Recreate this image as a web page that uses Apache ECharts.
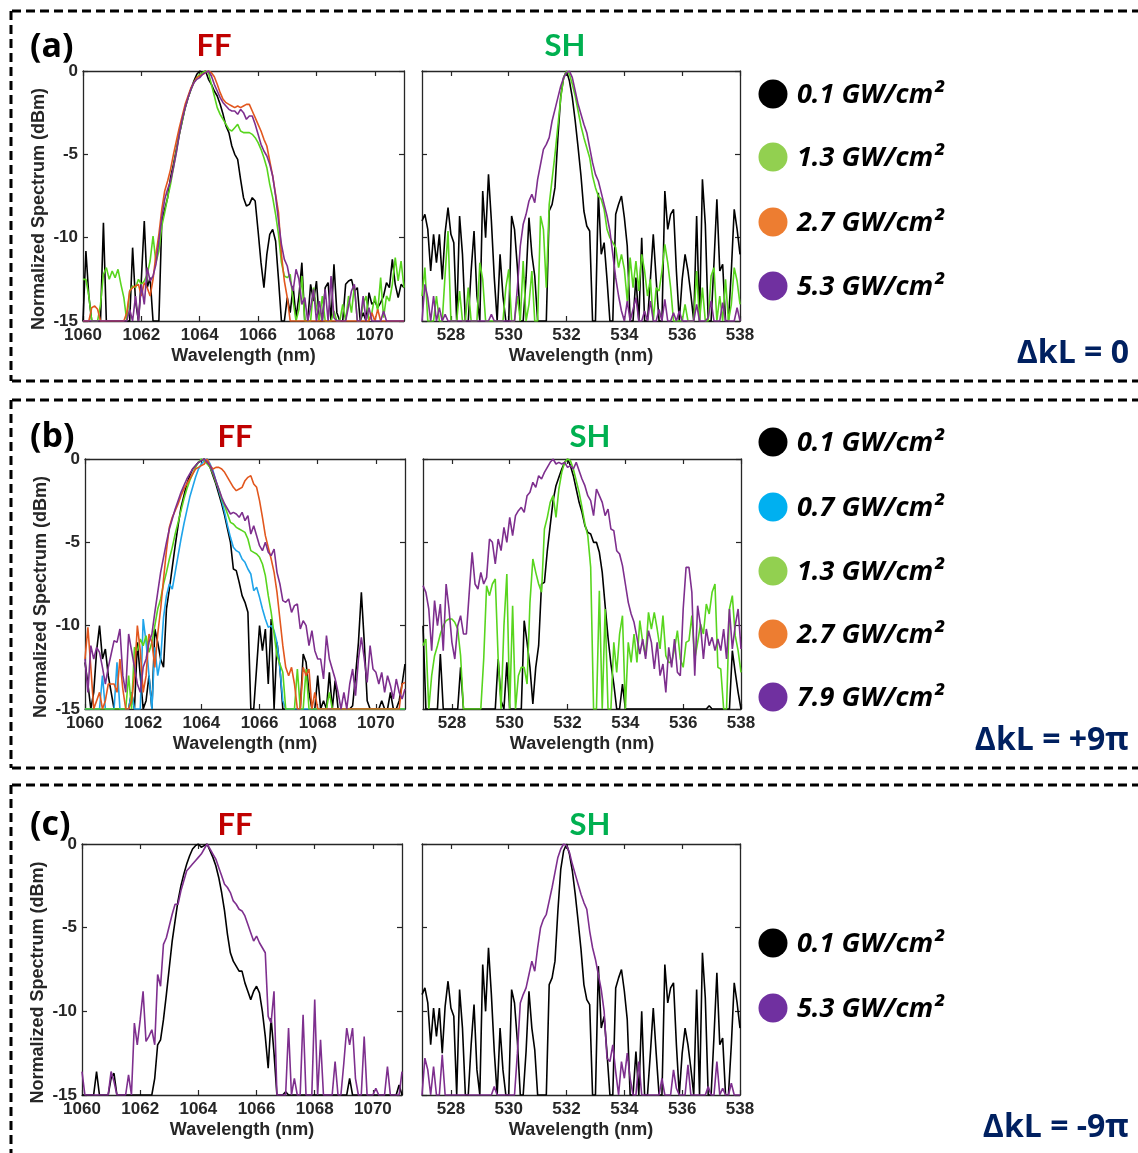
<!DOCTYPE html>
<html><head><meta charset="utf-8">
<script src="https://cdn.jsdelivr.net/npm/echarts@6/dist/echarts.min.js"></script>
<style>html,body{margin:0;padding:0;background:#fff}#c{width:1138px;height:1153px}</style>
</head><body><div id="c"></div>
<script>
// ---------- sampling grids & ticks ----------
const ffStart = 1060, shStart = 527, stepNm = 0.1;
const ffMin = 1060, ffMax = 1071, shMin = 527, shMax = 538;
const ffTicks = [1060, 1062, 1064, 1066, 1068, 1070];
const shTicks = [528, 530, 532, 534, 536, 538];
const yTicks = [0, -5, -10, -15];

// ---------- (a) dkL = 0 ----------
const ffA_01 = [
-15,-10.8,-13.5,-15,-15,-15,-15,-9.1,-15,-15,
-15,-15,-15,-15,-15,-15,-15,-10.6,-13.8,-15,
-12.5,-9.0,-13,-12.4,-15,-15,-15,-9.0,-8.3,-7.6,
-6.4,-5.6,-4.7,-3.8,-3.0,-2.2,-1.6,-1.1,-0.6,-0.2,
0,-0.1,0,-0.5,-0.8,-1.2,-1.5,-2.0,-2.6,-3.3,
-3.7,-4.5,-5.0,-5.3,-6.5,-7.6,-8.1,-8.0,-7.6,-7.8,
-9.6,-11.5,-13.0,-11.0,-9.8,-9.5,-10.2,-12.5,-15,-15,
-13.6,-14.5,-12.9,-14.8,-13.5,-11.5,-15,-15,-12.8,-13.8,
-12.6,-15,-15,-13,-12.7,-15,-11.6,-14.5,-15,-15,
-12.8,-12.6,-12.5,-13.2,-13.0,-15,-14.5,-15,-13.3,-14.0,
-13.8,-14.2,-13.9,-13.5,-12.7,-13.0,-11.3,-12.8,-13.6,-12.8,-13.0];
const ffA_13 = [
-12.5,-12.5,-13.5,-15,-15,-15,-14,-12.2,-11.8,-12.5,
-12.0,-12.4,-11.9,-12.8,-13.6,-15,-13.2,-12.9,-13.0,-12.5,
-12.8,-12.6,-12.2,-11.4,-9.9,-11.5,-10.8,-9.3,-8.5,-7.6,
-6.8,-5.8,-4.8,-3.8,-3.0,-2.2,-1.6,-1.1,-0.7,-0.4,
-0.2,-0.1,0,-0.1,-0.8,-1.5,-2.2,-2.6,-2.9,-3.2,
-3.5,-3.6,-3.4,-3.2,-3.6,-3.7,-3.7,-3.7,-3.8,-4.0,
-4.3,-4.7,-5.2,-5.8,-6.8,-7.6,-8.6,-9.8,-11.5,-12.3,
-12.4,-12.2,-13.8,-15,-14.3,-12.3,-15,-15,-15,-13,
-14.2,-15,-13.5,-15,-15,-15,-14.4,-15,-15,-14,
-15,-13.5,-14.5,-12.9,-15,-15,-14,-13.5,-15,-14.5,
-13.5,-14.4,-12.4,-14.8,-13.5,-13.8,-12.8,-11.2,-12.6,-11.4,-13];
const ffA_27 = [
-15,-15,-15,-14.2,-14.1,-14.3,-15,-15,-15,-15,
-15,-15,-15,-15,-15,-14.5,-13.2,-13.0,-12.9,-12.8,
-13.5,-12.7,-13.0,-13.5,-12.5,-11.0,-9.8,-8.3,-7.2,-6.6,
-5.9,-5.0,-4.2,-3.4,-2.7,-2.0,-1.5,-1.0,-0.7,-0.4,
-0.3,-0.2,-0.1,0,-0.1,-0.35,-0.8,-1.3,-1.7,-1.9,
-2.0,-2.1,-2.2,-2.1,-2.2,-2.1,-2.0,-2.0,-2.4,-2.8,
-3.2,-3.6,-4.1,-4.5,-5.4,-6.3,-7.4,-8.5,-11.0,-12.6,
-13.6,-15,-15,-15,-15,-15,-15,-15,-15,-15,
-15,-15,-15,-15,-15,-15,-15,-15,-15,-15,
-15,-15,-15,-15,-15,-15,-15,-15,-15,-14.5,
-15,-14.3,-15,-15,-15,-15,-15,-15,-15,-15,-15];
const ffA_53 = [
-15,-15,-15,-15,-15,-15,-15,-15,-15,-15,
-15,-15,-15,-15,-15,-15,-14.3,-15,-13.5,-15,
-12.8,-14,-11.8,-12.6,-12.3,-11.6,-10.2,-8.8,-7.7,-7.1,
-6.6,-5.8,-4.9,-3.8,-2.9,-2.2,-1.6,-1.1,-0.7,-0.5,
-0.4,-0.2,-0.1,0,-0.3,-0.8,-1.2,-1.6,-1.9,-2.1,
-2.3,-2.4,-2.4,-2.6,-2.3,-2.5,-2.9,-2.7,-2.7,-3.2,
-3.8,-4.4,-4.8,-5.1,-5.6,-6.3,-7.5,-9.0,-10.4,-11.3,
-11.7,-12.6,-13.2,-11.9,-12.5,-14.0,-13.6,-15,-14.2,-13.1,
-15,-13.8,-15,-13.1,-15,-12.3,-14.8,-15,-15,-15,
-15,-14.1,-13.2,-12.8,-15,-15,-13.5,-15,-14.2,-15,
-15,-15,-15,-14.4,-15,-15,-15,-15,-15,-15,-15];
const shA_01 = [
-9.0,-8.6,-9.5,-12.0,-9.8,-11.5,-9.8,-12.5,-9.7,-8.2,
-9.8,-10.3,-15,-8.7,-11.0,-15,-15,-12.0,-9.6,-13.5,
-15,-7.2,-10.0,-6.2,-9.0,-12.4,-15,-11.0,-13.5,-15,
-15,-8.7,-9.5,-11.8,-15,-15,-12.4,-8.8,-11.0,-12.3,
-15,-15,-15,-15,-8.4,-8.0,-7.0,-4.0,-1.5,-0.4,
0,-0.6,-1.6,-3.0,-4.6,-6.3,-8.4,-9.3,-9.6,-15,
-15,-7.3,-11.0,-10.3,-12.5,-15,-15,-8.6,-8.0,-7.5,
-8.8,-10.5,-15,-15,-12.4,-15,-10.0,-15,-15,-12.5,
-9.8,-12.5,-15,-15,-7.2,-9.5,-8.6,-8.3,-12.0,-15,
-12.5,-11.0,-12.0,-13.4,-15,-8.7,-15,-6.5,-9.2,-15,
-15,-11.5,-7.7,-12.0,-11.6,-15,-15,-12.0,-8.3,-9.5,-11.0];
const shA_13 = [
-13.5,-11.8,-15,-15,-15,-13.5,-15,-15,-12.2,-9.6,
-15,-15,-15,-13.2,-15,-15,-13.0,-15,-15,-15,
-11.5,-12.5,-15,-15,-15,-15,-15,-15,-15,-13.0,
-11.9,-15,-15,-13.5,-15,-11.4,-15,-14.0,-12.0,-15,
-15,-8.7,-9.5,-13.0,-8.0,-6.5,-5.0,-3.3,-1.6,-0.4,
0,-0.2,-0.8,-1.5,-2.4,-3.3,-4.0,-4.6,-5.2,-6.3,
-7.0,-7.5,-7.7,-8.3,-9.5,-10.0,-10.3,-10.6,-11.8,-11.0,
-11.9,-13.8,-11.2,-13.0,-11.4,-13.2,-11.0,-12.0,-13.5,-12.5,
-15,-13.0,-13.2,-12.0,-10.4,-11.5,-13.0,-15,-15,-15,
-15,-14.0,-15,-15,-15,-12.0,-15,-13.0,-15,-15,
-12.3,-11.8,-15,-13.5,-15,-12.5,-15,-14,-11.8,-12.6,-14.0];
const shA_53 = [
-15,-12.8,-13.6,-15,-13.5,-15,-14.2,-15,-14.6,-15,
-15,-15,-15,-15,-15,-15,-15,-15,-15,-15,
-15,-15,-15,-15,-14.6,-15,-15,-15,-15,-15,
-15,-15,-15,-13.0,-10.5,-9.2,-8.6,-7.8,-7.4,-7.9,
-6.5,-5.6,-4.7,-4.4,-4.0,-3.0,-2.3,-1.6,-0.9,-0.4,
-0.1,0,-0.4,-1.2,-2.0,-2.6,-3.2,-3.7,-4.6,-5.5,
-6.2,-6.6,-7.3,-8.0,-8.7,-9.6,-11.0,-12.4,-13.5,-14.4,
-15,-13.8,-15,-14.3,-13.6,-15,-15,-14.4,-15,-13.8,
-15,-15,-14.3,-15,-13.7,-15,-15,-14.5,-15,-14.4,
-15,-15,-15,-15,-15,-14.0,-15,-15,-15,-14.8,
-13.8,-15,-15,-15,-13.9,-15,-15,-15,-15,-14.2,-15];

// ---------- (b) dkL = +9pi ----------
const ffB_01 = [
-12.2,-13.5,-15,-14.0,-11.5,-10.0,-12.0,-11.4,-13.0,-14.0,
-15,-15,-15,-15,-15,-15,-14.0,-15,-11.0,-13.0,
-15,-14.5,-13.0,-15,-10.2,-11.0,-12.0,-12.5,-9.0,-7.8,
-6.5,-5.2,-4.0,-2.9,-2.2,-1.5,-1.0,-0.6,-0.4,-0.2,
-0.1,0,-0.2,-0.5,-1.0,-1.5,-2.1,-2.7,-3.4,-4.2,
-5.0,-6.6,-6.7,-7.4,-8.2,-8.6,-9.2,-15,-15,-12.5,
-10.0,-11.5,-10.2,-13.5,-9.6,-15,-11.0,-12.5,-15,-15,
-15,-15,-15,-15,-15,-11.7,-12.2,-14.0,-15,-15,
-13.0,-15,-14.5,-15,-12.8,-15,-13.3,-15,-15,-15,
-15,-15,-14.8,-13.0,-11.0,-8.0,-11.0,-14.5,-15,-15,
-15,-15,-14.5,-15,-15,-14.0,-15,-15,-14.5,-13.5,-12.3];
const ffB_07 = [
-15,-15,-15,-15,-15,-15,-13.0,-15,-15,-15,
-15,-12.2,-15,-15,-15,-15,-14.0,-15,-15,-15,
-9.6,-11.0,-13.0,-15,-11.3,-13.0,-12.0,-9.5,-8.2,-7.5,
-7.8,-6.8,-5.8,-4.8,-3.9,-3.1,-2.3,-1.7,-1.1,-0.6,
-0.3,-0.1,0,-0.3,-0.7,-1.3,-1.9,-2.5,-3.2,-4.0,
-4.7,-5.3,-5.5,-5.6,-6.0,-6.2,-6.6,-6.9,-7.9,-7.7,
-8.3,-9.0,-9.6,-10.1,-10.0,-10.3,-11.0,-12.6,-14.5,-15,
-15,-15,-15,-15,-15,-15,-15,-15,-15,-15,
-15,-15,-15,-15,-15,-15,-15,-15,-15,-15,
-15,-15,-15,-15,-15,-15,-15,-15,-15,-15,
-15,-15,-15,-15,-15,-15,-15,-15,-15,-15,-15];
const ffB_13 = [
-15,-15,-15,-15,-15,-15,-15,-15,-15,-15,
-15,-15,-15,-15,-15,-13.0,-15,-11.3,-11.5,-10.8,
-11.2,-10.6,-11.6,-11.0,-10.0,-9.0,-8.4,-7.5,-6.8,-6.0,
-5.3,-4.5,-3.8,-3.1,-2.4,-1.8,-1.3,-0.9,-0.5,-0.2,
0,-0.1,-0.3,-0.5,-0.9,-1.4,-1.8,-2.4,-2.8,-3.3,
-3.8,-3.9,-4.1,-4.2,-4.3,-4.4,-4.8,-5.5,-5.6,-5.7,
-5.9,-6.3,-7.0,-8.2,-9.2,-10.5,-11.8,-12.3,-12.8,-15,
-15,-15,-15,-12.6,-15,-15,-12.6,-15,-15,-15,
-15,-15,-15,-15,-14.0,-15,-15,-15,-15,-15,
-15,-15,-15,-15,-15,-15,-15,-15,-15,-15,
-15,-15,-15,-15,-15,-15,-15,-15,-15,-15,-15];
const ffB_27 = [
-12.0,-10.1,-12.5,-15,-14.5,-14.0,-15,-14.5,-13.5,-13.5,
-13.5,-14.0,-12.0,-13.8,-15,-15,-14.5,-13.0,-10.0,-11.5,
-14.0,-13.0,-10.5,-11.0,-12.5,-10.5,-9.0,-7.2,-5.5,-4.1,
-3.5,-3.1,-2.7,-2.2,-1.8,-1.5,-1.2,-0.9,-0.6,-0.5,
-0.4,-0.3,0,-0.4,-0.6,-0.5,-0.5,-0.6,-0.8,-1.1,
-1.4,-1.7,-1.9,-1.8,-1.7,-1.3,-1.1,-1.0,-1.5,-1.7,
-2.5,-3.5,-4.6,-5.3,-6.0,-6.8,-8.0,-9.6,-11.2,-12.5,
-13.0,-12.5,-13.5,-15,-15,-12.5,-13.0,-12.6,-15,-14.0,
-15,-15,-15,-15,-15,-15,-15,-15,-15,-15,
-15,-15,-15,-15,-15,-15,-15,-15,-15,-15,
-15,-15,-15,-15,-15,-15,-15,-15,-15,-13.5,-13.4];
const ffB_79 = [
-12.0,-14.0,-11.2,-12.0,-11.3,-11.6,-12.5,-13.5,-12.5,-11.7,
-10.9,-11.0,-10.2,-13.0,-14.0,-10.5,-11.5,-12.5,-13.5,-14.0,
-12.5,-12.0,-11.0,-10.5,-9.2,-8.0,-6.8,-5.9,-5.0,-4.2,
-3.6,-3.0,-2.5,-2.0,-1.6,-1.2,-0.9,-0.6,-0.4,-0.2,
-0.1,0,-0.2,-0.4,-0.8,-1.3,-1.8,-2.3,-2.7,-3.0,
-3.3,-3.2,-3.3,-3.5,-3.2,-3.7,-3.4,-4.5,-4.0,-4.6,
-5.2,-5.5,-5.0,-5.6,-5.8,-5.4,-6.8,-7.5,-8.5,-8.6,
-8.4,-9.2,-8.8,-8.7,-10.2,-9.7,-10.0,-11.2,-10.3,-11.5,
-12.0,-12.0,-13.2,-10.6,-12.0,-12.6,-13.2,-14.0,-15,-14.0,
-15,-13.5,-12.6,-14.2,-12.0,-10.7,-12.0,-13.4,-11.2,-12.6,
-12.8,-13.5,-12.8,-14.0,-13.0,-13.6,-14.4,-13.2,-14.0,-14.4,-13.8];
const shB_01 = [
-10.0,-15,-15,-15,-15,-15,-11.7,-15,-15,-15,
-15,-15,-15,-12.5,-15,-15,-15,-15,-15,-15,
-15,-15,-15,-15,-15,-15,-12.0,-14.5,-15,-12.2,
-15,-15,-15,-15,-15,-9.7,-11.0,-12.5,-14.7,-12.5,
-11.2,-7.5,-7.4,-5.5,-4.0,-2.5,-1.6,-1.1,-0.6,-0.2,
0,-0.4,-1.0,-1.8,-2.6,-3.2,-4.0,-4.4,-4.5,-5.0,
-5.0,-5.6,-6.8,-8.8,-10.7,-12.3,-13.5,-15,-15,-13.5,
-15,-15,-15,-15,-15,-15,-15,-15,-15,-15,
-15,-15,-15,-15,-15,-15,-15,-15,-15,-15,
-15,-15,-15,-15,-15,-15,-15,-15,-15,-14.8,
-15,-15,-15,-15,-15,-15,-15,-11.5,-12.8,-14.0,-15];
const shB_13 = [
-11.2,-10.8,-15,-13.0,-11.8,-11.2,-10.5,-10.0,-9.7,-9.6,
-9.6,-9.8,-10.2,-11.8,-15,-15,-15,-15,-15,-15,
-15,-12.0,-7.6,-8.2,-7.5,-7.2,-12.0,-15,-10.0,-6.9,
-15,-8.8,-15,-13.0,-12.5,-12.5,-13.5,-8.6,-6.0,-6.8,
-7.5,-8.0,-4.2,-3.5,-2.6,-2.2,-3.5,-1.8,-0.8,-0.2,
0,-0.1,-0.6,-1.3,-2.0,-2.9,-3.9,-4.6,-6.5,-15,
-15,-7.9,-15,-9.0,-15,-15,-11.0,-12.8,-10.5,-9.4,
-15,-11.0,-12.2,-10.5,-12.2,-9.7,-11.0,-11.8,-9.2,-10.2,
-9.2,-10.2,-11.4,-9.4,-11.8,-12.2,-12.2,-11.4,-10.3,-12.0,
-12.5,-11.0,-10.9,-9.4,-12.0,-11.0,-9.9,-10.5,-8.7,-9.3,
-8.0,-7.5,-12.5,-12.6,-15,-15,-9.0,-8.2,-10.6,-11.5,-12.8];
const shB_79 = [
-7.6,-8.0,-9.0,-11.5,-8.5,-10.0,-8.7,-11.5,-7.5,-9.0,
-11.0,-12.0,-10.0,-9.4,-10.5,-10.5,-8.0,-5.6,-7.5,-7.8,
-6.8,-7.5,-7.1,-4.8,-5.0,-6.3,-4.8,-5.5,-4.1,-5.0,
-3.5,-4.6,-3.4,-3.1,-2.9,-3.2,-2.2,-2.0,-1.4,-1.7,
-1.0,-1.2,-0.8,-0.5,-0.2,0,-0.3,-0.2,-0.3,-0.2,
-0.5,-0.4,-0.6,-0.2,-0.7,-1.2,-1.6,-2.2,-2.5,-3.4,
-1.8,-2.2,-2.6,-3.4,-3.0,-4.2,-4.3,-5.5,-5.7,-6.4,
-7.5,-8.6,-9.3,-9.8,-10.7,-11.7,-10.8,-12.0,-10.3,-11.0,
-12.6,-11.0,-13.0,-12.3,-14.0,-11.3,-12.5,-10.8,-12.8,-13.0,
-9.0,-6.5,-6.5,-8.0,-13.0,-8.8,-10.0,-12.0,-10.2,-11.2,
-10.7,-11.5,-10.8,-11.5,-10.2,-12.0,-9.0,-11.4,-10.0,-9.0,-11.4];

// ---------- (c) dkL = -9pi ----------
const ffC_01 = [
-15,-15,-15,-15,-15,-13.6,-15,-15,-15,-15,
-14.0,-13.7,-15,-15,-15,-15,-15,-15,-15,-15,
-15,-15,-15,-15,-15,-14.0,-12.0,-11.7,-10.5,-9.0,
-7.4,-5.8,-4.6,-3.4,-2.5,-1.8,-1.2,-0.7,-0.3,-0.1,
0,-0.2,-0.1,0,-0.4,-0.8,-1.3,-2.0,-2.9,-4.0,
-5.4,-6.5,-7.0,-7.3,-7.6,-7.6,-8.3,-8.8,-9.3,-8.8,
-8.5,-8.9,-10.0,-11.5,-13.4,-10.4,-12.5,-15,-15,-15,
-14.8,-15,-15,-15,-15,-15,-15,-15,-15,-15,
-15,-15,-15,-15,-15,-15,-15,-15,-15,-15,
-15,-15,-14.0,-15,-15,-15,-15,-15,-15,-15,
-15,-15,-15,-15,-15,-15,-15,-15,-15,-14.4,-15];
const ffC_53 = [
-13.6,-15,-15,-15,-15,-15,-15,-15,-15,-15,
-13.6,-14.2,-15,-15,-15,-15,-13.8,-15,-10.7,-12.0,
-10.5,-8.8,-11.8,-11.5,-11.1,-12.0,-7.8,-8.5,-6.0,-5.6,
-4.9,-4.2,-3.6,-3.6,-2.8,-2.2,-1.6,-1.4,-1.2,-1.0,
-0.8,-0.6,-0.3,0,-0.3,-0.6,-0.9,-1.4,-1.9,-2.4,
-2.6,-2.9,-3.4,-3.6,-3.9,-4.0,-4.3,-4.8,-5.3,-5.8,
-5.5,-5.9,-6.2,-6.5,-10.3,-10.7,-8.8,-15,-15,-15,
-15,-11.0,-15,-14.0,-15,-15,-10.2,-15,-15,-15,
-9.3,-15,-11.7,-15,-15,-15,-15,-13.0,-15,-15,
-13.1,-11.0,-12.0,-11.0,-14.0,-15,-15,-11.5,-15,-15,
-15,-14.6,-15,-15,-15,-13.3,-15,-15,-15,-15,-13.6];
const shC_01 = shA_01;
const shC_53 = [
-15,-12.8,-13.5,-15,-13.3,-15,-15,-12.6,-15,-15,
-15,-15,-15,-15,-15,-15,-15,-15,-15,-15,
-15,-15,-15,-15,-15,-14.5,-15,-15,-15,-15,
-15,-15,-15,-12.5,-9.5,-9.0,-8.6,-7.8,-7.0,-7.6,
-6.2,-5.0,-4.5,-4.2,-3.4,-2.6,-1.7,-0.8,-0.3,0,
-0.1,-0.5,-1.2,-1.8,-2.4,-3.0,-3.5,-3.9,-5.2,-6.2,
-6.9,-7.8,-8.7,-10.0,-12.8,-13.0,-12.0,-13.6,-15,-13.0,
-14.0,-12.5,-14.0,-15,-15,-13.0,-15,-15,-15,-15,
-15,-15,-15,-14.0,-15,-15,-15,-13.5,-14.6,-15,
-15,-15,-13.2,-15,-15,-15,-15,-15,-15,-14.5,
-15,-15,-13.0,-15,-14.6,-15,-15,-14.3,-15,-15,-15];

// ---------- labels ----------
const lbl01 = '0.1 GW/cm²', lbl07 = '0.7 GW/cm²', lbl13 = '1.3 GW/cm²',
      lbl27 = '2.7 GW/cm²', lbl53 = '5.3 GW/cm²', lbl79 = '7.9 GW/cm²';

// ---------- styles ----------
const L_BLACK = '#000000', L_GREEN = '#58D51E', L_ORANGE = '#E2571E', L_PURPLE = '#7E2F8E', L_BLUE = '#1FA4EA';
const M_BLACK = '#000000', M_GREEN = '#92D050', M_ORANGE = '#ED7D31', M_PURPLE = '#7030A0', M_BLUE = '#00B0F0';
const AX = '#262626';
const TICKFONT = '"Liberation Sans", Arial, sans-serif';
const TITLEFONT = 'Lato, "Open Sans", sans-serif';
const WIDEFONT = '"Open Sans", Lato, sans-serif';

const panels = [
  {g:{left:83,top:71,width:321,height:250}, ff:true,
   s:[[ffA_01,L_BLACK],[ffA_13,L_GREEN],[ffA_27,L_ORANGE],[ffA_53,L_PURPLE]]},
  {g:{left:422,top:71,width:318,height:250}, ff:false,
   s:[[shA_01,L_BLACK],[shA_13,L_GREEN],[shA_53,L_PURPLE]]},
  {g:{left:85,top:459,width:320,height:250}, ff:true,
   s:[[ffB_01,L_BLACK],[ffB_07,L_BLUE],[ffB_13,L_GREEN],[ffB_27,L_ORANGE],[ffB_79,L_PURPLE]]},
  {g:{left:423,top:459,width:318,height:250}, ff:false,
   s:[[shB_01,L_BLACK],[shB_13,L_GREEN],[shB_79,L_PURPLE]]},
  {g:{left:82,top:844,width:320,height:251}, ff:true,
   s:[[ffC_01,L_BLACK],[ffC_53,L_PURPLE]]},
  {g:{left:422,top:844,width:318,height:251}, ff:false,
   s:[[shC_01,L_BLACK],[shC_53,L_PURPLE]]}
];

function pairs(start, ys){
  return ys.map((y,i)=>[+(start + i*stepNm).toFixed(2), y]);
}
const plain = v => String(v);

const grid=[], xAxis=[], yAxis=[], series=[];
panels.forEach((p,i)=>{
  grid.push(Object.assign({containLabel:false, show:false}, p.g));
  const ticks = p.ff ? ffTicks : shTicks;
  const min = p.ff ? ffMin : shMin, max = p.ff ? ffMax : shMax;
  const line = {show:true, onZero:false, lineStyle:{color:AX, width:1.3}};
  xAxis.push({gridIndex:i, type:'value', min, max, position:'bottom',
    axisLine:line, splitLine:{show:false},
    axisTick:{show:true, inside:true, length:5, customValues:ticks, lineStyle:{color:AX, width:1.2}},
    axisLabel:{show:true, customValues:ticks, formatter:plain, margin:6, color:AX, fontSize:17, fontWeight:'bold', fontFamily:TICKFONT},
    name:'Wavelength (nm)', nameLocation:'middle', nameGap:26,
    nameTextStyle:{color:AX, fontSize:18, fontWeight:'bold', fontFamily:TICKFONT}});
  xAxis.push({gridIndex:i, type:'value', min, max, position:'top',
    axisLine:line, splitLine:{show:false},
    axisTick:{show:true, inside:true, length:5, customValues:ticks, lineStyle:{color:AX, width:1.2}},
    axisLabel:{show:false}});
  yAxis.push({gridIndex:i, type:'value', min:-15, max:0, interval:5, position:'left',
    axisLine:line, splitLine:{show:false},
    axisTick:{show:true, inside:true, length:5, customValues:yTicks, lineStyle:{color:AX, width:1.2}},
    axisLabel:{show:p.ff, customValues:yTicks, formatter:plain, margin:5, color:AX, fontSize:17, fontWeight:'bold', fontFamily:TICKFONT},
    name:p.ff ? 'Normalized Spectrum (dBm)' : '', nameLocation:'middle', nameGap:35, nameRotate:90,
    nameTextStyle:{color:AX, fontSize:18, fontWeight:'bold', fontFamily:TICKFONT, padding:[0,26,0,0]}});
  yAxis.push({gridIndex:i, type:'value', min:-15, max:0, interval:5, position:'right',
    axisLine:line, splitLine:{show:false},
    axisTick:{show:true, inside:true, length:5, customValues:yTicks, lineStyle:{color:AX, width:1.2}},
    axisLabel:{show:false}});
  p.s.forEach(([ys,col])=>{
    series.push({type:'line', xAxisIndex:2*i, yAxisIndex:2*i, data:pairs(p.ff?ffStart:shStart, ys),
      showSymbol:false, symbol:'none', clip:true, animation:false,
      lineStyle:{color:col, width:1.6}, itemStyle:{color:col}});
  });
});

// ---------- decorations ----------
const G = [];
function dash(x1,y1,x2,y2){
  G.push({type:'line', shape:{x1,y1,x2,y2}, style:{stroke:'#000', lineWidth:3, lineDash:[9,5]}, silent:true});
}
dash(12,11,1138,11); dash(11,11,11,381); dash(12,381,1138,381);
dash(12,400,1138,400); dash(11,400,11,768); dash(12,768,1138,768);
dash(12,785,1138,785); dash(11,785,11,1153);

function txt(x,y,s,opt){
  G.push({type:'text', x, y, silent:true, style:Object.assign({text:s, fill:'#000',
    font:'bold 30px '+TITLEFONT, textAlign:'left', textVerticalAlign:'middle'}, opt||{})});
}
// panel letters & titles
txt(30,47,'(a)',{font:'bold 34px '+WIDEFONT});
txt(30,437,'(b)',{font:'bold 34px '+WIDEFONT});
txt(30,825,'(c)',{font:'bold 34px '+WIDEFONT});
const FFc = '#C00000', SHc = '#00B050';
txt(214,46,'FF',{fill:FFc, textAlign:'center', font:'bold 31px '+TITLEFONT});
txt(565,46,'SH',{fill:SHc, textAlign:'center', font:'bold 31px '+TITLEFONT});
txt(235,437,'FF',{fill:FFc, textAlign:'center', font:'bold 31px '+TITLEFONT});
txt(590,437,'SH',{fill:SHc, textAlign:'center', font:'bold 31px '+TITLEFONT});
txt(235,825,'FF',{fill:FFc, textAlign:'center', font:'bold 31px '+TITLEFONT});
txt(590,825,'SH',{fill:SHc, textAlign:'center', font:'bold 31px '+TITLEFONT});

// legends
function leg(items, ys){
  items.forEach(([col,label],k)=>{
    G.push({type:'circle', shape:{cx:773, cy:ys[k], r:14.5}, style:{fill:col}, silent:true});
    txt(797, ys[k]+1, label, {font:'italic bold 27px '+WIDEFONT});
  });
}
leg([[M_BLACK,lbl01],[M_GREEN,lbl13],[M_ORANGE,lbl27],[M_PURPLE,lbl53]],[94,157,222,286]);
leg([[M_BLACK,lbl01],[M_BLUE,lbl07],[M_GREEN,lbl13],[M_ORANGE,lbl27],[M_PURPLE,lbl79]],[442,507,571,634,697]);
leg([[M_BLACK,lbl01],[M_PURPLE,lbl53]],[943,1008]);

// delta kL
const DK = '#002060';
txt(1129,354,'ΔkL = 0',{fill:DK, textAlign:'right', font:'bold 32px '+WIDEFONT});
txt(1129,741,'ΔkL = +9π',{fill:DK, textAlign:'right', font:'bold 32px '+WIDEFONT});
txt(1129,1128,'ΔkL = -9π',{fill:DK, textAlign:'right', font:'bold 32px '+WIDEFONT});

const chart = echarts.init(document.getElementById('c'), null, {renderer:'canvas'});
chart.setOption({backgroundColor:'#fff', animation:false, grid, xAxis, yAxis, series, graphic:G});
</script></body></html>
